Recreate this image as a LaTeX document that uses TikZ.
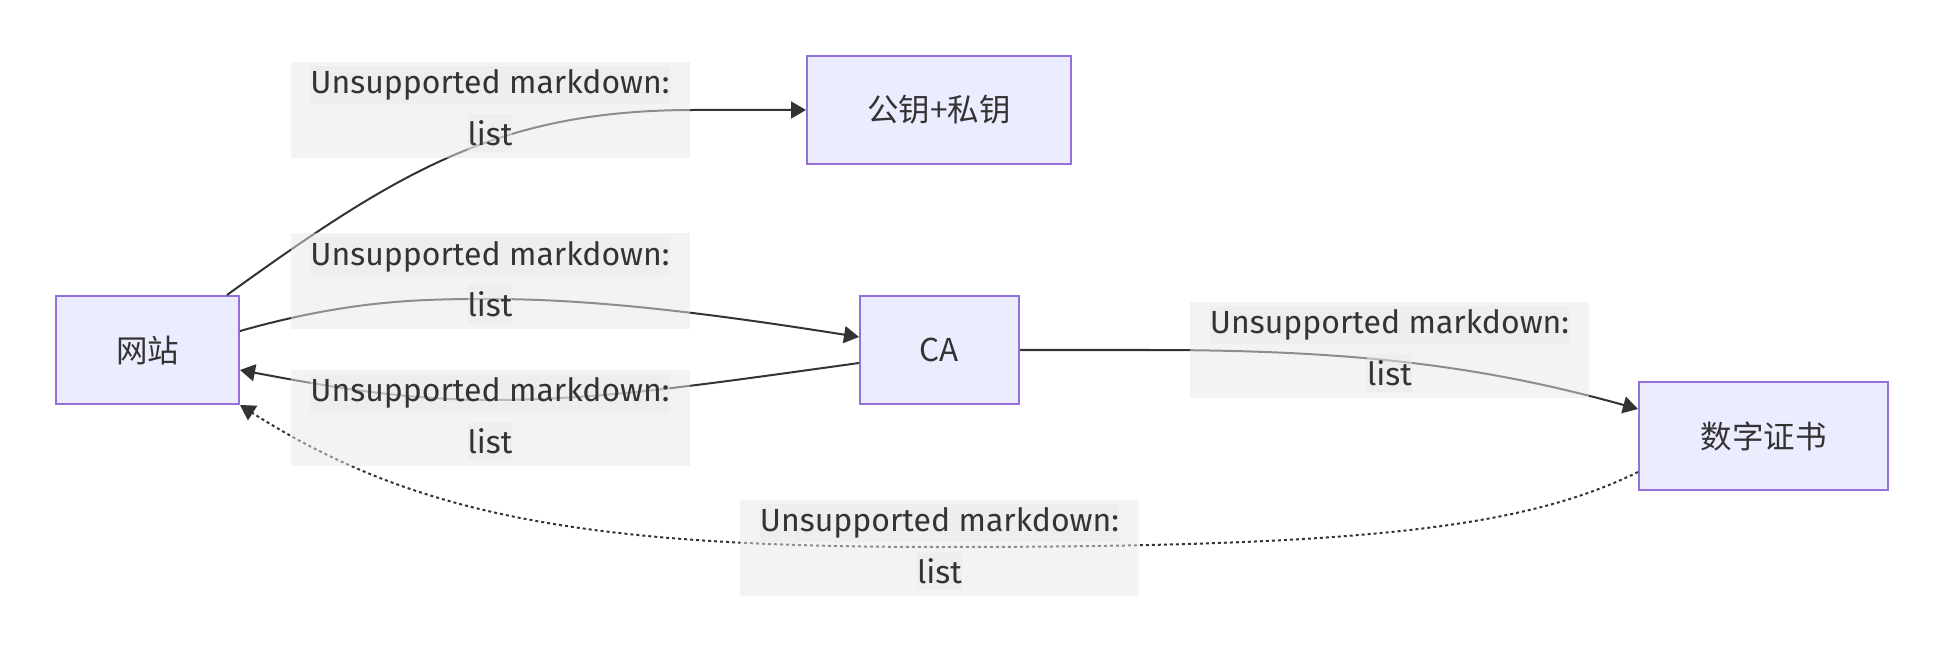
\documentclass[tikz,border=0pt]{standalone}
\usepackage{fontspec}
\setmainfont{Fira Sans}
\newfontfamily\cjk{Noto Sans CJK SC}
\usetikzlibrary{arrows.meta,calc}
\definecolor{nodefill}{HTML}{ECECFF}
\definecolor{nodeborder}{HTML}{9370DB}
\definecolor{edgecol}{HTML}{333333}
\definecolor{lblbg}{HTML}{E8E8E8}
\tikzset{
  box/.style={draw=nodeborder, fill=nodefill, line width=2pt, minimum height=108pt, inner sep=0pt, font=\cjk\fontsize{31.5}{36}\selectfont, text=edgecol},
  edge/.style={draw=edgecol, line width=2pt, -{Triangle[length=15pt,width=17pt]}},
  dotedge/.style={edge, dash pattern=on 3pt off 3pt},
  lblbox/.style={fill=lblbg, fill opacity=0.5, text opacity=1, minimum width=399pt, minimum height=96pt, inner sep=0pt},
  lblline/.style={fill=lblbg, fill opacity=0.5, text opacity=1, inner xsep=0pt, inner ysep=0pt, minimum height=38pt, font=\fontsize{32}{38}\selectfont, text=edgecol},
}
\begin{document}
\begin{tikzpicture}[x=1pt,y=-1pt]
\useasboundingbox (0,0) rectangle (1944,652);
% nodes
\node[box, minimum width=183pt] (w) at (147.5,350) {网站};
\node[box, minimum width=264pt] (pk) at (939,110) {公钥+私钥};
\node[box, minimum width=159pt] (ca) at (939.5,350) {CA};
\node[box, minimum width=249pt] (cert) at (1763.5,436) {数字证书};
% edges
\draw[edge] ([xshift=-13pt]w.north east) .. controls (400,170) and (500,110) .. (694,110) -- (pk.west);
\draw[edge] ([yshift=19pt]w.east) .. controls (350,300) and (420,299) .. (490,299) .. controls (600,299) and (720,315) .. ([yshift=13pt]ca.west);
\draw[edge] ([yshift=-13pt]ca.west) .. controls (700,385) and (600,400) .. (491,400) .. controls (400,400) and (320,385) .. ([yshift=-20pt]w.east);
\draw[edge] (ca.east) -- (1150,350) .. controls (1350,350) and (1480,365) .. ([yshift=27pt]cert.west);
\draw[dotedge] ([yshift=-36pt]cert.west) .. controls (1520,530) and (1350,547) .. (940,547) .. controls (600,547) and (420,520) .. (w.south east);
% edge labels
\foreach \n/\x/\y in {l1/490/110, l2/490/281.5, l3/490/418, l4/1389.5/350, l5/939.5/548}{
  \node[lblbox] (\n) at (\x,\y) {};
  \node[lblline] (\n a) at ($(\n.center)+(0,-25)$) {Unsupported markdown:};
  \node[lblline] (\n b) at ($(\n.center)+(0,23)$) {list};
}
\end{tikzpicture}
\end{document}
